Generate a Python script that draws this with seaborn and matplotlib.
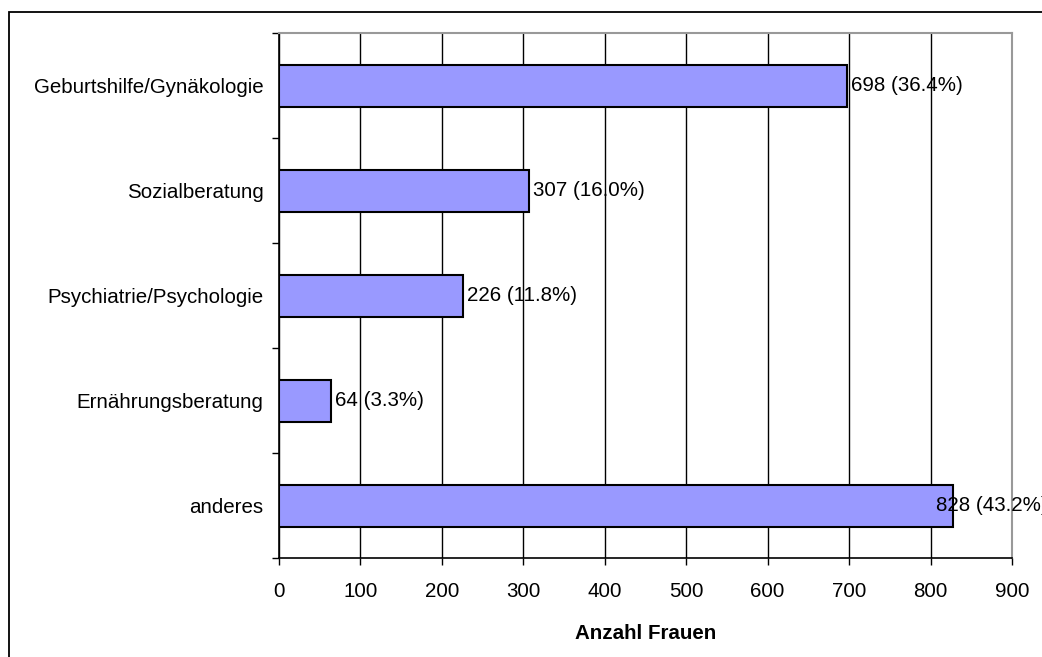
import matplotlib
matplotlib.use("Agg")
import matplotlib.pyplot as plt
import seaborn as sns
import pandas as pd
from matplotlib.patches import Rectangle
from matplotlib.ticker import MultipleLocator, FixedLocator

categories = ["Geburtshilfe/Gynäkologie", "Sozialberatung", "Psychiatrie/Psychologie",
              "Ernährungsberatung", "anderes"]
values = [698, 307, 226, 64, 828]
labels = ["698 (36.4%)", "307 (16.0%)", "226 (11.8%)", "64 (3.3%)", "828 (43.2%)"]
xlabel = "Anzahl Frauen"

sns.set_style("white")
plt.rcParams["font.family"] = ["Liberation Sans", "DejaVu Sans"]
FS = 14.8
plt.rcParams["font.size"] = FS
plt.rcParams["text.color"] = "black"
plt.rcParams["xtick.color"] = "black"
plt.rcParams["ytick.color"] = "black"
plt.rcParams["axes.labelcolor"] = "black"

df = pd.DataFrame({"cat": categories, "val": values})

fig = plt.figure(figsize=(10.42, 6.57), dpi=100)
ax = fig.add_axes([279/1042, 1 - 558/657, (1012-279)/1042, (558-33)/657])

sns.barplot(data=df, x="val", y="cat", orient="h", width=0.4, color="#9999FF",
            saturation=1, edgecolor="black", linewidth=1.5, ax=ax, zorder=3)

ax.set_xlim(0, 900)
ax.set_ylim(len(categories) - 0.5, -0.5)
ax.xaxis.set_major_locator(MultipleLocator(100))
ax.grid(axis="x", color="black", linewidth=1, zorder=0)
ax.set_axisbelow(True)

# y ticks at category boundaries
ax.yaxis.set_minor_locator(FixedLocator([i - 0.5 for i in range(len(categories) + 1)]))
ax.tick_params(axis="y", which="major", length=0, pad=11, labelsize=FS, labelcolor="black")
ax.tick_params(axis="y", which="minor", length=5, width=1, color="black", direction="out", left=True)
ax.tick_params(axis="x", which="major", length=5, width=1, color="black", direction="out",
               bottom=True, pad=12, labelsize=FS, labelcolor="black")

for side in ["left", "bottom"]:
    ax.spines[side].set_color("black")
    ax.spines[side].set_linewidth(1.2)
for side in ["top", "right"]:
    ax.spines[side].set_visible(True)
    ax.spines[side].set_color("#999999")
    ax.spines[side].set_linewidth(1.5)

ax.set_ylabel("")
ax.set_xlabel(xlabel, fontweight="bold", fontsize=FS, labelpad=17, color="black")

for i, (v, lab) in enumerate(zip(values, labels)):
    off = -17 if i == len(values) - 1 else 4
    ax.annotate(lab, xy=(v, i), xytext=(off, 0), textcoords="offset pixels",
                ha="left", va="center", fontsize=FS, zorder=5, annotation_clip=False,
                color="black")

# figure border (partially outside the canvas)
fig.patches.append(Rectangle((9/1042, -0.1), 1.2, 1 - 12/657 + 0.1, transform=fig.transFigure,
                             fill=False, edgecolor="black", linewidth=1.3, zorder=10))

fig.savefig("out.png", dpi=100)
